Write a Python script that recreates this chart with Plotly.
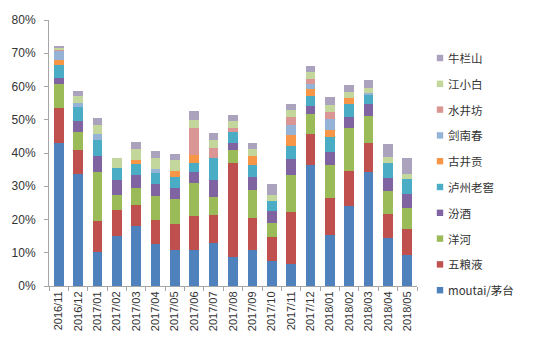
import plotly.graph_objects as go

months = ["2016/11", "2016/12", "2017/01", "2017/02", "2017/03", "2017/04", "2017/05",
          "2017/06", "2017/07", "2017/08", "2017/09", "2017/10", "2017/11", "2017/12",
          "2018/01", "2018/02", "2018/03", "2018/04", "2018/05"]

moutai       = [43.0, 33.8, 10.2, 15.0, 18.0, 12.7, 10.7, 10.7, 13.0, 8.7, 10.7, 7.5, 6.5, 36.5, 15.4, 24.0, 34.3, 14.4, 9.2]
wuliangye    = [10.6, 7.2, 9.3, 7.8, 6.3, 7.3, 7.9, 10.3, 8.3, 28.4, 9.8, 7.2, 15.8, 9.3, 11.2, 10.5, 8.8, 7.2, 7.9]
yanghe       = [7.3, 5.3, 14.8, 4.5, 5.3, 7.1, 7.7, 10.0, 5.5, 3.9, 8.3, 4.3, 11.0, 5.9, 9.7, 13.1, 8.1, 6.9, 6.4]
fenjiu       = [1.8, 3.2, 4.8, 4.5, 3.7, 3.5, 3.3, 3.3, 5.0, 2.1, 4.0, 3.5, 4.8, 2.4, 4.0, 3.3, 3.5, 4.0, 4.3]
luzhou       = [3.7, 4.4, 4.7, 3.7, 3.3, 3.4, 3.2, 2.7, 6.8, 3.2, 3.7, 3.0, 4.0, 3.1, 4.5, 3.8, 2.9, 4.6, 4.5]
gujing       = [1.5, 0.0, 0.0, 0.0, 1.4, 0.0, 1.8, 2.3, 0.0, 0.0, 2.5, 0.0, 3.2, 1.9, 2.2, 1.7, 0.0, 0.0, 0.0]
jiannanchun  = [3.0, 1.2, 2.0, 0.0, 0.0, 1.3, 0.0, 0.0, 0.0, 0.0, 0.0, 0.0, 3.0, 1.8, 3.2, 0.0, 0.5, 0.0, 0.0]
shuijingfang = [0.2, 0.0, 0.0, 0.0, 0.0, 0.0, 0.0, 8.2, 2.9, 1.2, 0.0, 0.0, 2.6, 1.5, 2.2, 0.0, 0.0, 0.0, 0.0]
jiangxiaobai = [0.4, 2.1, 2.5, 3.0, 3.3, 3.2, 3.2, 2.5, 2.3, 2.0, 2.1, 1.8, 2.0, 2.0, 2.0, 2.0, 1.6, 1.7, 1.3]
niulanshan   = [0.7, 1.5, 2.3, 0.0, 2.0, 2.2, 2.0, 2.6, 2.3, 1.8, 2.0, 3.3, 1.8, 1.8, 2.3, 2.0, 2.2, 4.0, 5.0]

series_names = ["moutai/茅台", "五粮液", "洋河", "汾酒", "泸州老窖", "古井贡", "剑南春", "水井坊", "江小白", "牛栏山"]
series_values = [moutai, wuliangye, yanghe, fenjiu, luzhou, gujing, jiannanchun, shuijingfang, jiangxiaobai, niulanshan]
colors = ["#4F81BD", "#C0504D", "#9BBB59", "#8064A2", "#4BACC6", "#F79646",
          "#95B3D7", "#D99694", "#C3D69B", "#ABA3BD"]

y_ticks = [0, 10, 20, 30, 40, 50, 60, 70, 80]
y_tick_labels = ["0%", "10%", "20%", "30%", "40%", "50%", "60%", "70%", "80%"]

FONT = "Liberation Sans, Noto Sans CJK SC, sans-serif"
CJK = "Noto Sans CJK SC, Liberation Sans, sans-serif"

fig = go.Figure()
for name, vals, col in zip(series_names, series_values, colors):
    fig.add_trace(go.Bar(x=months, y=vals, name=name, marker=dict(color=col, line=dict(width=0)),
                         showlegend=False))

# manual legend (reversed order, top = last series)
top_y = 58
step = 25.8
legend_x_px = 440
W, H = 539, 356
ml, mr, mt, mb = 49, 122, 20, 70
pw, ph = W - ml - mr, H - mt - mb
annotations = []
shapes = []
for i, (name, col) in enumerate(reversed(list(zip(series_names, colors)))):
    yc = top_y + i * step
    xp = (legend_x_px - ml) / pw
    yp = 1 - (yc - mt) / ph
    sx = 3.2 / pw
    sy = 3.2 / ph
    shapes.append(dict(type="rect", xref="paper", yref="paper", x0=xp - sx, x1=xp + sx,
                       y0=yp - sy, y1=yp + sy, fillcolor=col, line=dict(width=0)))
    annotations.append(dict(xref="paper", yref="paper", x=xp + 6 / pw, y=yp, text=name,
                            showarrow=False, xanchor="left", yanchor="middle",
                            font=dict(family=CJK, size=11.5, color="#333333")))

fig.update_layout(
    width=W, height=H,
    barmode="stack",
    bargap=0.5,
    margin=dict(l=ml, r=mr, t=mt, b=mb, pad=0),
    paper_bgcolor="white", plot_bgcolor="white",
    font=dict(family=FONT, size=11, color="#333333"),
    shapes=shapes,
    annotations=annotations,
    xaxis=dict(type="category", tickangle=-90, showgrid=False, showline=True,
               linecolor="#A6A6A6", linewidth=1, ticks="outside", tickson="boundaries",
               ticklen=4, tickcolor="#A6A6A6", tickfont=dict(size=11, color="#333333")),
    yaxis=dict(range=[0, 80], tickmode="array", tickvals=y_ticks, ticktext=y_tick_labels,
               showgrid=False, showline=True, linecolor="#A6A6A6", linewidth=1,
               ticks="outside", ticklen=4, tickcolor="#A6A6A6", zeroline=False,
               ticklabelstandoff=6,
               tickfont=dict(size=12, color="#333333")),
)

fig.write_html("out.html",
               config={"displayModeBar": False},
               post_script="document.body.style.margin='0';document.body.style.overflow='hidden';")
